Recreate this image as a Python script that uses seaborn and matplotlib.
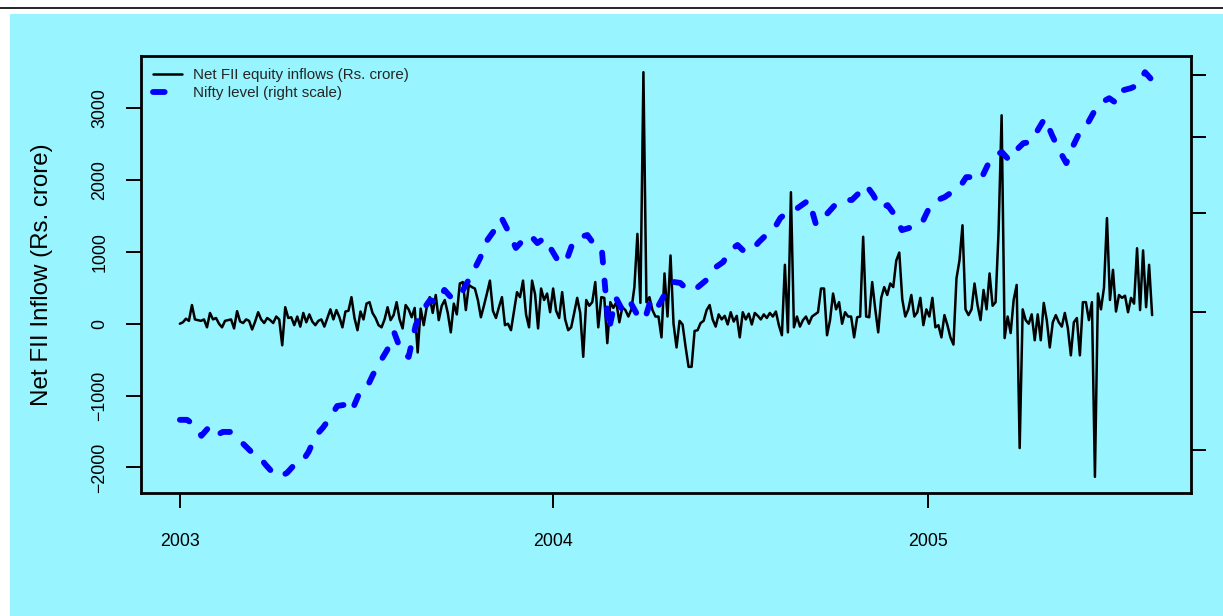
import numpy as np
import pandas as pd
import matplotlib
matplotlib.use('Agg')
import matplotlib.pyplot as plt
import matplotlib.dates as mdates
from matplotlib.lines import Line2D
from matplotlib.patches import Rectangle
from matplotlib.ticker import FixedLocator, NullLocator, NullFormatter
import seaborn as sns

sns.set_theme(style="ticks")
plt.rcParams['font.family'] = ['Liberation Sans', 'DejaVu Sans']

# ── Data ──────────────────────────────────────────────────────────────────────
START, END = "2003-01-01", "2005-08-08"

# Net FII equity inflows, Rs. crore (roughly every second trading day)
fii_flow = [
    0, 20, 70, 40, 260, 60, 50, 40, 60, -50,
    150, 60, 80, 0, -50, 40, 50, 60, -65, 175,
    30, 10, 60, 40, -80, 30, 160, 60, 10, 80,
    50, 10, 100, 60, -300, 230, 80, 90, -20, 100,
    -40, 150, 20, 130, 30, -20, 40, 60, -40, 80,
    200, 60, 190, 90, -50, 170, 180, 370, 80, -90,
    170, 60, 280, 300, 150,
    # late 2003
    80, -20, -50, 60, 230, 50, 120, 300, 60, -65,
    260, 200, 90, 220, -400, 210, -20, 230, 370, 150,
    400, 50, 250, 330, 150, -120, 280, 130, 560, 580,
    190, 540, 510, 490, 330, 90, 250, 420, 600, 180,
    80, 230, 370, -20, 0, -90, 180, 440, 370, 600,
    130, -50, 600, 410, -65, 490, 330, 420, 160, 490,
    180, 80, 440, 60, -90, -50, 150,
    # 2004 first half
    360, 150, -460, 330, 250, 300, 580, -50, 370, 360,
    -270, 300, 220, 300, 20, 230, 190, 100, 200, 510,
    1250, 290, 3500, 300, 370, 190, 100, 100, -190, 700,
    100, 950, 0, -330, 40, -10, -320, -600, -600, -100,
    -90, 10, 40, 190, 260, 60, -40, 130, 60, 110,
    -10, 160, 30, 110, -190, 160, 60, 140, -10, 150,
    110, 60, 130, 80, 150, 100, 170,
    # 2004 second half
    -20, -160, 820, -120, 1830, -50, 100, -40, 50, 100,
    0, 100, 130, 160, 490, 490, -160, 50, 420, 200,
    300, 0, 160, 100, 100, -190, 90, 100, 1210, 100,
    90, 580, 210, -120, 360, 510, 400, 560, 510, 880,
    990, 340, 100, 200, 400, 100, 160, 360, -20, 200,
    100, 360, -50, -20, -190, 120, -20, -190, -290, 630,
    880, 1370, 200, 120, 200, 560,
    # 2005
    260, 50, 470, 200, 700, 250, 300, 1300, 2900, -200,
    100, -130, 330, 540, -1730, 200, 50, 0, 130, -230,
    130, -230, 290, 50, -330, 20, 120, 20, -40, 150,
    -60, -440, 20, 80, -440, 300, 300, 50, 300, -2130,
    420, 200, 500, 1470, 330, 750, 170, 400, 360, 390,
    160, 360, 280, 1050, 190, 1020, 230, 820, 120,
]

# Nifty level (weekly), drawn against a log right-hand scale
nifty_level = [
    1092, 1092, 1076, 1042, 1067, 1042, 1054, 1054, 1036, 1015,
    994, 983, 957, 935, 924, 935, 957, 963, 994, 1042,
    1067, 1098, 1137, 1141, 1118, 1175, 1192, 1246, 1294, 1340,
    1409, 1332, 1313, 1442, 1507, 1552, 1538, 1598, 1561, 1561,
    1621, 1684, 1755, 1849, 1904, 1973, 1893, 1807, 1849, 1877,
    1833, 1861, 1796, 1734, 1734, 1839, 1866, 1877, 1823, 1810,
    1421, 1561, 1500, 1542, 1485, 1463, 1565, 1529, 1588, 1636,
    1631, 1598, 1598, 1626, 1655, 1709, 1734, 1796, 1823, 1786,
    1796, 1839, 1877, 1904, 1973, 2008, 2019, 2049, 2080, 1933,
    1973, 2019, 2067, 2080, 2080, 2123, 2173, 2110, 2031, 2049,
    1990, 1904, 1916, 1961, 1961, 2049, 2080, 2098, 2129, 2154,
    2224, 2224, 2205, 2304, 2372, 2393, 2338, 2407, 2457, 2464,
    2552, 2644, 2515, 2407, 2317, 2443, 2552, 2605, 2706, 2771,
    2803, 2762, 2870, 2886, 2912, 3025, 2955,
]

year_ticks = ["2003-01-01", "2004-01-01", "2005-01-01"]
year_labels = ["2003", "2004", "2005"]
left_ticks = [-2000, -1000, 0, 1000, 2000, 3000]
right_ticks = [1000, 1500, 2000, 2500, 3000]
legend_labels = ["Net FII equity inflows (Rs. crore)", "Nifty level (right scale)"]

fii = pd.DataFrame({"date": pd.date_range(START, END, periods=len(fii_flow)),
                    "flow": fii_flow})
nifty = pd.DataFrame({"date": pd.date_range(START, END, periods=len(nifty_level)),
                      "level": nifty_level})

# ── Figure ────────────────────────────────────────────────────────────────────
BG = "#98F5FF"
W, H = 1223, 616
fig = plt.figure(figsize=(W / 100, H / 100), dpi=100, facecolor="white")
fig.add_artist(Rectangle((10 / W, 0), 1, 1 - 14 / H, transform=fig.transFigure,
                         facecolor=BG, edgecolor="none", zorder=-5))
fig.add_artist(Line2D([0, 1], [1 - 7.5 / H] * 2, transform=fig.transFigure,
                      color="black", lw=1.2))

ax = fig.add_axes([141 / W, 1 - 493 / H, 1050 / W, 437 / H])
ax.set_facecolor(BG)
sns.lineplot(data=fii, x="date", y="flow", ax=ax, color="black", lw=1.8,
             solid_joinstyle="round", legend=False)

ax2 = ax.twinx()
sns.lineplot(data=nifty, x="date", y="level", ax=ax2, color="blue", lw=4.2,
             linestyle=(0, (1.7, 3.1)), dash_capstyle="round", legend=False)
ax2.set_yscale("log")

# R-style 4% axis padding
d0 = mdates.date2num(fii["date"].min())
d1 = mdates.date2num(fii["date"].max())
pad = 0.04 * (d1 - d0)
ax.set_xlim(d0 - pad, d1 + pad)
lo, hi = min(fii_flow), max(fii_flow)
pad = 0.04 * (hi - lo)
ax.set_ylim(lo - pad, hi + pad)
llo, lhi = np.log(min(nifty_level)), np.log(max(nifty_level))
pad = 0.04 * (lhi - llo)
ax2.set_ylim(np.exp(llo - pad), np.exp(lhi + pad))

ax.set_xticks(pd.to_datetime(year_ticks))
ax.set_xticklabels(year_labels)
ax.set_yticks(left_ticks)
ax.set_yticklabels([str(v).replace("-", "\u2212") for v in left_ticks])
ax.set_xlabel("")
ax.set_ylabel("Net FII Inflow (Rs. crore)", fontsize=17.4, color="black")
ax.yaxis.set_label_coords(-0.0838, 0.5)

ax.tick_params(axis="both", direction="out", length=10.5, width=1.4,
               color="black", labelcolor="black", labelsize=12.8)
ax.tick_params(axis="x", pad=18)
ax.tick_params(axis="y", pad=13, labelrotation=90)
for lab in ax.get_yticklabels():
    lab.set_va("center")

ax2.yaxis.set_major_locator(FixedLocator(right_ticks))
ax2.yaxis.set_minor_locator(NullLocator())
ax2.yaxis.set_major_formatter(NullFormatter())
ax2.set_ylabel("")
ax2.tick_params(axis="y", direction="out", length=10.5, width=1.4, color="black")

for s in ax.spines.values():
    s.set_visible(True)
    s.set_color("black")
    s.set_linewidth(2.0)
for s in ax2.spines.values():
    s.set_visible(False)

# legend: the blue key shows a single dash, as in the reference
handles = [ax.get_lines()[0],
           Line2D([], [], color="blue", lw=4.2, linestyle=(0, (2.0, 6.0)),
                  dash_capstyle="round")]
ax2.legend(handles, legend_labels, loc="upper left", bbox_to_anchor=(0.0114, 0.972),
           frameon=False, fontsize=10.9, handlelength=1.92, handletextpad=0.73,
           labelspacing=0.25, borderpad=0, borderaxespad=0)

fig.savefig("out.png", dpi=100, facecolor="white")
